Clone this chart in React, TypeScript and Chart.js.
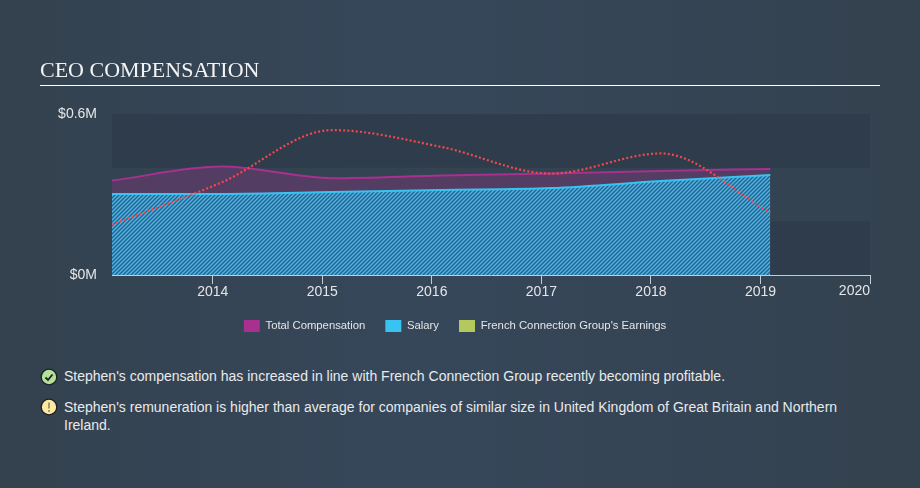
import React, { useEffect, useRef } from "react";
import { Chart, registerables } from "chart.js";

Chart.register(...registerables);

const years = [2013.08, 2014.08, 2015.09, 2016.09, 2017.09, 2018.09, 2019.09];
const totalComp = [0.352, 0.404, 0.361, 0.371, 0.378, 0.388, 0.395];
const salary = [0.302, 0.302, 0.309, 0.317, 0.324, 0.35, 0.373];
const earnings = [0.188, 0.345, 0.54, 0.477, 0.378, 0.453, 0.233];
const xTicks = [2014, 2015, 2016, 2017, 2018, 2019, 2020];
const yTicks = [0, 0.6];
const bandEdges = [0, 0.2, 0.4, 0.6];
const legendNames = ["Total Compensation", "Salary", "French Connection Group's Earnings"];
const legendColors = ["#a8308f", "#38c3f2", "#b5c85f"];
const insights = [
  "Stephen's compensation has increased in line with French Connection Group recently becoming profitable.",
  "Stephen's remuneration is higher than average for companies of similar size in United Kingdom of Great Britain and Northern Ireland.",
];

const toPts = (v: number[]) => v.map((y, i) => ({ x: years[i], y }));

function hatch(ctx: CanvasRenderingContext2D) {
  const c = document.createElement("canvas");
  c.width = 4;
  c.height = 4;
  const p = c.getContext("2d")!;
  p.fillStyle = "#3a5a80";
  p.fillRect(0, 0, 4, 4);
  p.strokeStyle = "#3cbcf0";
  p.lineWidth = 1.45;
  p.beginPath();
  p.moveTo(-1, 1);
  p.lineTo(1, -1);
  p.moveTo(-1, 5);
  p.lineTo(5, -1);
  p.moveTo(3, 5);
  p.lineTo(5, 3);
  p.stroke();
  return ctx.createPattern(c, "repeat")!;
}

const bands = {
  id: "bands",
  beforeDatasetsDraw(chart: any) {
    const { ctx, chartArea: a, scales } = chart;
    ctx.save();
    for (let i = 0; i < bandEdges.length - 1; i++) {
      const y0 = scales.y.getPixelForValue(bandEdges[i]);
      const y1 = scales.y.getPixelForValue(bandEdges[i + 1]);
      ctx.fillStyle = i % 2 === 0 ? "#2f3c4b" : "#344352";
      ctx.fillRect(a.left, y1, a.right - a.left, y0 - y1);
    }
    ctx.restore();
  },
};

const lastLabel = {
  id: "lastLabel",
  afterDraw(chart: any) {
    const { ctx, scales } = chart;
    ctx.save();
    ctx.font = "14px 'Liberation Sans'";
    ctx.fillStyle = "#e4e6e8";
    ctx.textAlign = "right";
    ctx.textBaseline = "top";
    ctx.fillText(String(xTicks[xTicks.length - 1]), scales.x.getPixelForValue(2020), scales.x.top + 9);
    ctx.restore();
  },
};

export default function App() {
  const ref = useRef<HTMLCanvasElement>(null);
  useEffect(() => {
    document.body.style.margin = "0";
    const ctx = ref.current!.getContext("2d")!;
    const chart = new Chart(ctx, {
      type: "line",
      data: {
        datasets: [
          {
            label: legendNames[2],
            data: toPts(earnings),
            borderColor: "#f4484e",
            borderWidth: 2.2,
            borderDash: [2, 2.2],
            fill: false,
            pointRadius: 0,
            cubicInterpolationMode: "monotone",
            order: 0,
          },
          {
            label: legendNames[1],
            data: toPts(salary),
            borderColor: "#38c3f2",
            borderWidth: 2,
            backgroundColor: hatch(ctx),
            fill: "origin",
            pointRadius: 0,
            cubicInterpolationMode: "monotone",
            order: 1,
          },
          {
            label: legendNames[0],
            data: toPts(totalComp),
            borderColor: "#a8308f",
            borderWidth: 2,
            backgroundColor: "rgba(168,48,143,0.28)",
            fill: "origin",
            pointRadius: 0,
            cubicInterpolationMode: "monotone",
            order: 2,
          },
        ],
      },
      options: {
        animation: false,
        responsive: false,
        devicePixelRatio: 1,
        layout: { padding: { left: 40, right: 50, top: 114, bottom: 8 } },
        scales: {
          x: {
            type: "linear",
            min: 2013.08,
            max: 2020,
            afterBuildTicks: (s: any) => {
              s.ticks = xTicks.map((value) => ({ value }));
            },
            afterFit: (s: any) => {
              s.height = 25;
            },
            grid: { display: true, drawOnChartArea: false, drawTicks: true, tickLength: 9, color: "#c3cbd3" },
            border: { color: "#c3cbd3", width: 1 },
            ticks: {
              maxRotation: 0,
              autoSkip: false,
              padding: 0,
              color: "#e4e6e8",
              font: { family: "'Liberation Sans'", size: 14 },
              callback: (v: any) => (v === 2020 ? "" : String(v)),
            },
          },
          y: {
            min: 0,
            max: 0.6,
            afterBuildTicks: (s: any) => {
              s.ticks = yTicks.map((value) => ({ value }));
            },
            afterFit: (s: any) => {
              s.width = 72;
            },
            grid: { display: false },
            border: { display: false },
            ticks: {
              padding: 7,
              color: "#e4e6e8",
              font: { family: "'Liberation Sans'", size: 14 },
              callback: (v: any) => `$${v}M`,
            },
          },
        },
        plugins: {
          tooltip: { enabled: false },
          legend: {
            position: "bottom",
            onClick: () => {},
            labels: {
              boxWidth: 16,
              boxHeight: 12,
              padding: 20,
              color: "#e4e6e8",
              font: { family: "'Liberation Sans'", size: 11.3 },
              generateLabels: () =>
                legendNames.map((text, i) => ({
                  text,
                  fillStyle: legendColors[i],
                  strokeStyle: legendColors[i],
                  lineWidth: 0,
                  fontColor: "#e4e6e8",
                  datasetIndex: i,
                })),
            },
          },
        },
      },
      plugins: [bands, lastLabel],
    } as any);
    return () => chart.destroy();
  }, []);

  const textStyle: React.CSSProperties = {
    position: "absolute",
    left: 64,
    width: 790,
    fontFamily: "'Liberation Sans', sans-serif",
    fontSize: 14,
    lineHeight: "18px",
    color: "#e8eaec",
  };

  return (
    <div
      style={{
        position: "relative",
        width: 920,
        height: 488,
        overflow: "hidden",
        background: "linear-gradient(90deg,#34424f 0%,#36475a 45%,#34424f 100%)",
      }}
    >
      <canvas ref={ref} width={920} height={350} style={{ position: "absolute", left: 0, top: 0 }} />
      <div
        style={{
          position: "absolute",
          left: 40,
          top: 57,
          fontFamily: "'Liberation Serif', serif",
          fontSize: 22,
          lineHeight: "26px",
          color: "#f2f3f4",
        }}
      >
        CEO COMPENSATION
      </div>
      <div style={{ position: "absolute", left: 40, top: 85, width: 840, height: 1, background: "#ffffff" }} />
      <svg width={18} height={18} style={{ position: "absolute", left: 40, top: 368 }}>
        <circle cx={9} cy={9} r={7.8} fill="#b5e09a" stroke="#1c2126" strokeWidth={1.3} />
        <path d="M5.5 9.5 L8 12 L12.5 6.5" fill="none" stroke="#1c2126" strokeWidth={1.8} />
      </svg>
      <div style={{ ...textStyle, top: 367 }}>{insights[0]}</div>
      <svg width={18} height={18} style={{ position: "absolute", left: 40, top: 398 }}>
        <circle cx={9} cy={9} r={7.8} fill="#ffe8a3" stroke="#1c2126" strokeWidth={1.3} />
        <path d="M9 4.5 L9 10.5 M9 12 L9 14" fill="none" stroke="#a89a60" strokeWidth={2} />
      </svg>
      <div style={{ ...textStyle, top: 398 }}>{insights[1]}</div>
    </div>
  );
}
